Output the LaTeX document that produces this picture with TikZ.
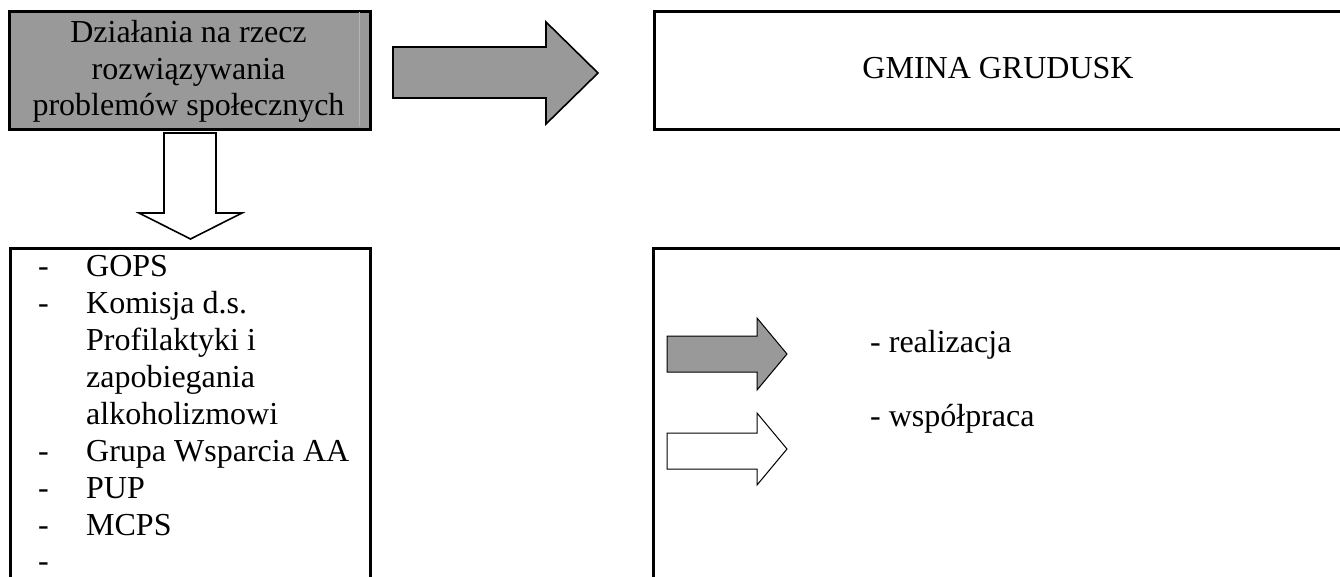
\documentclass[tikz,border=0pt]{standalone}
\usepackage{fontspec}
\setmainfont{Liberation Serif}
\definecolor{fillgray}{HTML}{999999}
\definecolor{seamgray}{HTML}{B4B4B4}
\begin{document}
\begin{tikzpicture}[x=1pt,y=-1pt,
  frame/.style={draw=black, line width=2.6pt, inner sep=0pt, anchor=north west},
  bigarrow/.style={draw=black, line width=1.6pt, line join=miter},
  smallarrow/.style={draw=black, line width=1pt, line join=miter},
  txt/.style={inner sep=0pt, font=\fontsize{32}{36.8}\selectfont},
  lst/.style={txt, anchor=base west},
]
\useasboundingbox (0,0) rectangle (1340,576);
\begin{scope}
\clip (0,0) rectangle (1340,576);
% boxes
\node[frame, fill=fillgray, minimum width=361pt, minimum height=118pt] (src) at (8,10) {};
\draw[seamgray, line width=0.6pt] (359,12) -- (359,126);
\node[frame, minimum width=700pt, minimum height=118pt] (gmina) at (653,10) {};
\node[frame, minimum width=360pt, minimum height=360pt] (list) at (9,247) {};
\node[frame, minimum width=700pt, minimum height=360pt] (legend) at (652,247) {};
% texts of source box
\node[txt, anchor=base] (s1) at (188.5,42) {Działania na rzecz};
\node[txt, anchor=base] (s2) at (188.5,79) {rozwiązywania};
\node[txt, anchor=base] (s3) at (188.5,115) {problemów społecznych};
\node[txt, anchor=base] (g1) at (998,78) {GMINA GRUDUSK};
% big block arrows
\draw[bigarrow, fill=fillgray] (393,47) -- (546,47) -- (546,22) -- (598,73) -- (546,124) -- (546,98) -- (393,98) -- cycle;
\draw[bigarrow, fill=white] (164,133) -- (216,133) -- (216,213) -- (242,213) -- (190.5,239) -- (139,213) -- (164,213) -- cycle;
% list
\node[lst] (d1) at (38,276) {-};
\node[lst] (l1) at (86,276) {GOPS};
\node[lst] (d2) at (38,313) {-};
\node[lst] (l2) at (86,313) {Komisja d.s.};
\node[lst] (l3) at (86,350) {Profilaktyki i};
\node[lst] (l4) at (86,387) {zapobiegania};
\node[lst] (l5) at (86,424) {alkoholizmowi};
\node[lst] (d3) at (38,461) {-};
\node[lst] (l6) at (86,461) {Grupa Wsparcia AA};
\node[lst] (d4) at (38,498) {-};
\node[lst] (l7) at (86,498) {PUP};
\node[lst] (d5) at (38,535) {-};
\node[lst] (l8) at (86,535) {MCPS};
\node[lst, text depth=0pt] (d6) at (38,571) {-};
% legend
\draw[smallarrow, fill=fillgray] (667,336) -- (757,336) -- (757,318) -- (787,354) -- (757,390) -- (757,372) -- (667,372) -- cycle;
\draw[smallarrow, fill=white] (667,433) -- (757,433) -- (757,413) -- (787,449) -- (757,485) -- (757,469) -- (667,469) -- cycle;
\node[lst] (r1) at (870,352) {- realizacja};
\node[lst] (r2) at (870,426) {- współpraca};
\end{scope}
\end{tikzpicture}
\end{document}
